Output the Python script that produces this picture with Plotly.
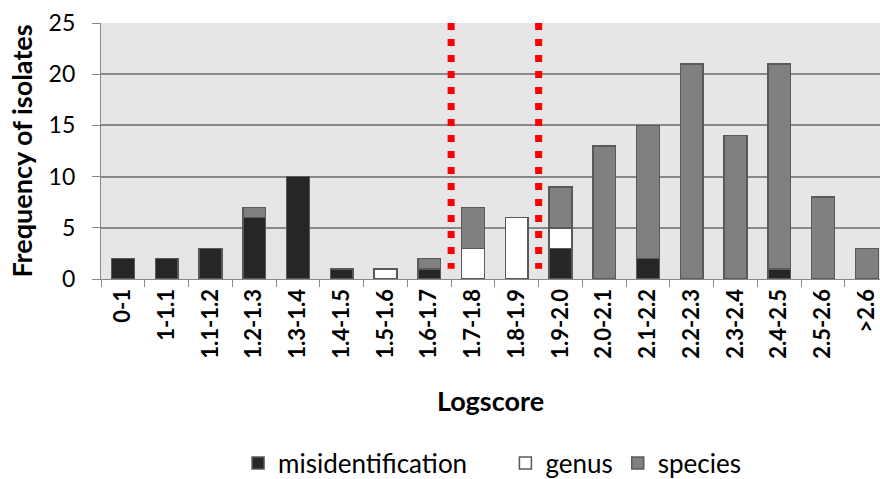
import plotly.graph_objects as go

categories = ["0-1", "1-1.1", "1.1-1.2", "1.2-1.3", "1.3-1.4", "1.4-1.5", "1.5-1.6",
              "1.6-1.7", "1.7-1.8", "1.8-1.9", "1.9-2.0", "2.0-2.1", "2.1-2.2",
              "2.2-2.3", "2.3-2.4", "2.4-2.5", "2.5-2.6", ">2.6"]
misidentification = [2, 2, 3, 6, 10, 1, 0, 1, 0, 0, 3, 0, 2, 0, 0, 1, 0, 0]
genus = [0, 0, 0, 0, 0, 0, 1, 0, 3, 6, 2, 0, 0, 0, 0, 0, 0, 0]
species = [0, 0, 0, 1, 0, 0, 0, 1, 4, 0, 4, 13, 13, 21, 14, 20, 8, 3]

# cut-off thresholds drawn between bins (category index boundaries)
threshold_positions = [7.5, 9.5]

FONT = "Lato"
OUTLINE = "#595959"
AXIS = "#888888"
PAD = "\u00a0" * 5  # extra spacing after the first legend entry


def nz(vals):
    return [v if v else None for v in vals]


fig = go.Figure()
for name, vals, color in [("misidentification" + PAD, misidentification, "#262626"),
                          ("genus", genus, "#ffffff"),
                          ("species", species, "#808080")]:
    fig.add_trace(go.Bar(
        x=categories, y=nz(vals), name=name, width=0.52,
        marker=dict(color=color, line=dict(color=OUTLINE, width=1.5)),
    ))

for xp in threshold_positions:
    fig.add_shape(type="line", xref="x", yref="y", x0=xp, x1=xp, y0=25, y1=1.0,
                  line=dict(color="#ff0000", width=7, dash="7px,9px"), layer="above")

fig.update_layout(
    width=880, height=479,
    barmode="stack",
    paper_bgcolor="white",
    plot_bgcolor="#e6e6e6",
    margin=dict(l=101, r=0, t=23, b=200, autoexpand=False),
    font=dict(family=FONT, color="black"),
    legend=dict(orientation="h", x=0.502, xanchor="center",
                yref="container", y=0.082, yanchor="top",
                font=dict(family=FONT, size=26), traceorder="normal"),
    showlegend=True,
)

fig.update_xaxes(
    type="category", range=[-0.5, 17.3], automargin=False,
    tickangle=-90, tickson="boundaries", ticks="outside", ticklen=7,
    tickcolor=AXIS, tickwidth=1.3,
    showline=True, linecolor=AXIS, linewidth=1.3,
    showgrid=False,
    tickfont=dict(family=FONT, size=22, color="black", weight="bold"),
    title=dict(text="<b>Logscore</b>", font=dict(family=FONT, size=27), standoff=34),
)
fig.update_yaxes(
    range=[0, 25], dtick=5, ticks="outside", ticklen=8, tickcolor=AXIS,
    tickwidth=1.3, showline=True, linecolor=AXIS, linewidth=1.3, automargin=False,
    gridcolor=AXIS, gridwidth=1.5, zeroline=False,
    tickfont=dict(family=FONT, size=23, color="black"),
    ticklabelstandoff=12,
    title=dict(text="<b>Frequency of isolates</b>", font=dict(family=FONT, size=27), standoff=8),
)

fig.write_html("out.html")
